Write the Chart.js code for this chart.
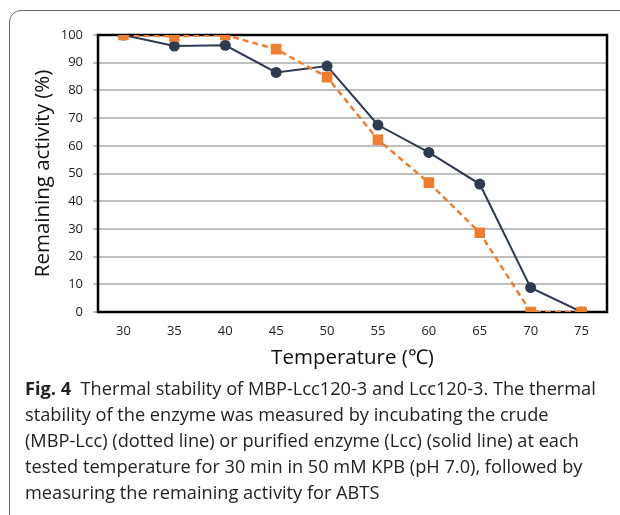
<!DOCTYPE html>
<html>
<head>
<meta charset="utf-8">
<script src="https://cdn.jsdelivr.net/npm/chart.js@4.4.1/dist/chart.umd.min.js"></script>
<style>
  html, body { margin: 0; padding: 0; background: #fff; }
  body { width: 620px; height: 515px; position: relative; overflow: hidden; }
  #frame {
    position: absolute; left: 9px; top: 10px; width: 640px; height: 530px;
    border: 1.5px solid #666; border-radius: 12px; box-sizing: border-box;
  }
  #wrap { position: absolute; left: 0; top: 0; width: 620px; height: 380px; }
  #caption {
    position: absolute; left: 25px; top: 375px; width: 594px;
    font-family: "Open Sans", "Noto Sans", sans-serif; font-size: 18.2px; line-height: 26px;
    color: #222; white-space: pre; letter-spacing: 0;
  }
  #caption b { font-weight: 700; }
</style>
</head>
<body>
<div id="frame"></div>
<div id="wrap"><canvas id="chart"></canvas></div>
<div id="caption"><b>Fig. 4</b>  Thermal stability of MBP-Lcc120-3 and Lcc120-3. The thermal
stability of the enzyme was measured by incubating the crude
(MBP-Lcc) (dotted line) or purified enzyme (Lcc) (solid line) at each
tested temperature for 30 min in 50 mM KPB (pH 7.0), followed by
measuring the remaining activity for ABTS</div>
<script>
// temperatures (°C)
const temps = ['30', '35', '40', '45', '50', '55', '60', '65', '70', '75'];
// purified enzyme (Lcc), solid line
const lcc = [100, 96, 96.3, 86.5, 88.8, 67.5, 57.6, 46.2, 8.8, 0];
// crude enzyme (MBP-Lcc), dotted line
const mbpLcc = [100, 99.5, 100, 94.9, 84.8, 62.2, 46.7, 28.6, 0, 0];

const plotBorder = {
  id: 'plotBorder',
  beforeDatasetsDraw(chart) {
    const a = chart.chartArea;
    const ctx = chart.ctx;
    ctx.save();
    ctx.strokeStyle = '#000';
    ctx.lineWidth = 2.5;
    ctx.strokeRect(a.left, a.top, a.right - a.left, a.bottom - a.top);
    ctx.restore();
  }
};

const ctx = document.getElementById('chart').getContext('2d');
new Chart(ctx, {
  type: 'line',
  data: {
    labels: temps,
    datasets: [
      {
        label: 'MBP-Lcc',
        data: mbpLcc,
        order: 0,
        borderColor: '#ed7d31',
        backgroundColor: '#ed7d31',
        borderWidth: 2.5,
        borderDash: [6, 4],
        pointStyle: 'rect',
        pointRadius: 7.5,
        pointBorderWidth: 0,
        tension: 0
      },
      {
        label: 'Lcc',
        data: lcc,
        order: 1,
        borderColor: '#2e3a4f',
        backgroundColor: '#2e3a4f',
        borderWidth: 2,
        pointStyle: 'circle',
        pointRadius: 5.5,
        pointBorderWidth: 0,
        tension: 0
      }
    ]
  },
  options: {
    responsive: true,
    maintainAspectRatio: false,
    animation: false,
    layout: { padding: { top: 35, right: 13, left: 0, bottom: 0 } },
    plugins: {
      legend: { display: false },
      tooltip: { enabled: false }
    },
    scales: {
      x: {
        type: 'category',
        offset: true,
        afterFit: function(scale) { scale.height = 68; },
        grid: { display: false, drawTicks: false },
        border: { display: false },
        ticks: {
          color: '#222',
          padding: 11,
          font: { family: 'Open Sans', size: 13 },
          maxRotation: 0
        },
        title: {
          display: true,
          text: 'Temperature (℃)',
          color: '#111',
          font: { family: 'Open Sans', size: 20.5 },
          padding: { top: 0, bottom: 10 }
        }
      },
      y: {
        min: 0,
        max: 100,
        afterFit: function(scale) { scale.width = 98; },
        grid: { color: '#bfbfbf', lineWidth: 2, tickLength: 5, drawTicks: true },
        border: { display: false },
        ticks: {
          stepSize: 10,
          color: '#222',
          padding: 10,
          font: { family: 'Open Sans', size: 13 }
        },
        title: {
          display: true,
          text: 'Remaining activity (%)',
          color: '#111',
          font: { family: 'Open Sans', size: 20.5 },
          padding: { top: 31, bottom: 0 }
        }
      }
    }
  },
  plugins: [plotBorder]
});
</script>
</body>
</html>
